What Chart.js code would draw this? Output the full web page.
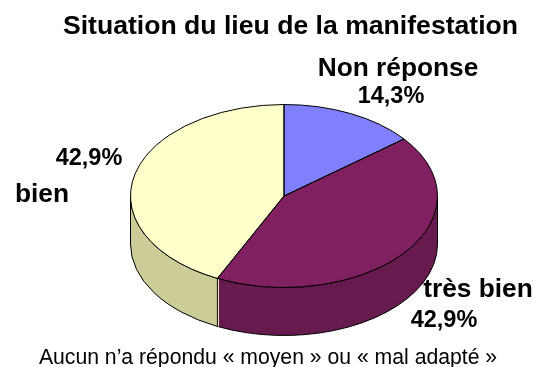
<!DOCTYPE html>
<html lang="fr">
<head>
  <meta charset="UTF-8" />
  <title>Situation du lieu de la manifestation</title>
  <style>
    body { margin: 0; background: #fff; }
    canvas { display: block; }
  </style>
</head>
<body>
<canvas id="pie" width="549" height="367"></canvas>

<script src="https://cdn.jsdelivr.net/npm/chart.js"></script>
<script>
  const categories = ['Non réponse', 'très bien', 'bien'];
  const values = [14.3, 42.9, 42.9];
  const titleText = 'Situation du lieu de la manifestation';
  const noteText = 'Aucun n’a répondu « moyen » ou « mal adapté »';

  const topColors = ['#8080ff', '#802060', '#ffffcc'];
  const sideColors = ['#666699', '#661a4d', '#cccc99'];

  const FONT = '"Liberation Sans", Arial, sans-serif';
  const TILT = 0.596;     // height/width of the top ellipse
  const DEPTH = 48;       // pie thickness
  const CENTER_Y = 196;

  const pct = v => v.toFixed(1).replace('.', ',') + '%';

  // Flatten the pie and add the side wall, Chart.js only does flat circles
  const tiltPlugin = {
    id: 'tilt',
    beforeDatasetsDraw(chart) {
      const ctx = chart.ctx;
      const arcs = chart.getDatasetMeta(0).data;
      const cx = arcs[0].x;
      const rx = arcs[0].outerRadius;
      const ry = rx * TILT;

      ctx.save();
      ctx.strokeStyle = '#000';
      ctx.lineWidth = 1;
      arcs.forEach((arc, i) => {
        const a1 = Math.max(arc.startAngle, 0);
        const a2 = Math.min(arc.endAngle, Math.PI);
        if (a2 <= a1) return;
        ctx.beginPath();
        ctx.ellipse(cx, CENTER_Y, rx, ry, 0, a1, a2);
        ctx.ellipse(cx, CENTER_Y + DEPTH, rx, ry, 0, a2, a1, true);
        ctx.closePath();
        ctx.fillStyle = sideColors[i];
        ctx.fill();
        ctx.stroke();
      });

      // pale edge of the front cut between the two walls
      const edge = arcs[1].endAngle;
      const ex = cx + rx * Math.cos(edge) + 1;
      const ey = CENTER_Y + ry * Math.sin(edge);
      ctx.beginPath();
      ctx.moveTo(ex, ey);
      ctx.lineTo(ex, ey + DEPTH);
      ctx.strokeStyle = '#ffffcc';
      ctx.stroke();
      ctx.restore();

      ctx.save();
      ctx.translate(cx, CENTER_Y);
      ctx.scale(1, TILT);
      ctx.translate(-cx, -arcs[0].y);
    },
    afterDatasetsDraw(chart) {
      const ctx = chart.ctx;
      ctx.restore();

      const arcs = chart.getDatasetMeta(0).data;
      const cx = arcs[0].x;
      const rx = arcs[0].outerRadius;
      const ry = rx * TILT;

      ctx.save();
      ctx.strokeStyle = '#000';
      ctx.lineWidth = 1;
      arcs.forEach(arc => {
        ctx.beginPath();
        ctx.moveTo(cx, CENTER_Y);
        ctx.ellipse(cx, CENTER_Y, rx, ry, 0, arc.startAngle, arc.endAngle);
        ctx.closePath();
        ctx.stroke();
      });
      ctx.restore();
    }
  };

  const textPlugin = {
    id: 'texts',
    afterDraw(chart) {
      const ctx = chart.ctx;
      const put = (text, x, y, size, weight) => {
        ctx.font = `${weight} ${size}px ${FONT}`;
        ctx.fillText(text, x, y);
      };
      ctx.save();
      ctx.fillStyle = '#000';
      ctx.textAlign = 'center';
      ctx.textBaseline = 'alphabetic';
      put(titleText, 290.5, 34, 26.6, 'bold');
      put(categories[0], 398, 76, 26.3, 'bold');
      put(pct(values[0]), 391, 103, 23.5, 'bold');
      put(pct(values[2]), 89, 165, 23.5, 'bold');
      put(categories[2], 42, 202, 26.3, 'bold');
      put(categories[1], 478, 297, 26.3, 'bold');
      put(pct(values[1]), 444, 327, 23.5, 'bold');
      put(noteText, 268, 364, 21.2, 'normal');
      ctx.restore();
    }
  };

  new Chart(document.getElementById('pie'), {
    type: 'pie',
    data: {
      labels: categories,
      datasets: [{
        data: values,
        backgroundColor: topColors,
        borderWidth: 0
      }]
    },
    options: {
      responsive: false,
      animation: false,
      layout: { padding: { left: 130.5, right: 111.5, top: 30, bottom: 30 } },
      plugins: {
        legend: { display: false },
        tooltip: { enabled: false }
      }
    },
    plugins: [tiltPlugin, textPlugin]
  });
</script>
</body>
</html>
